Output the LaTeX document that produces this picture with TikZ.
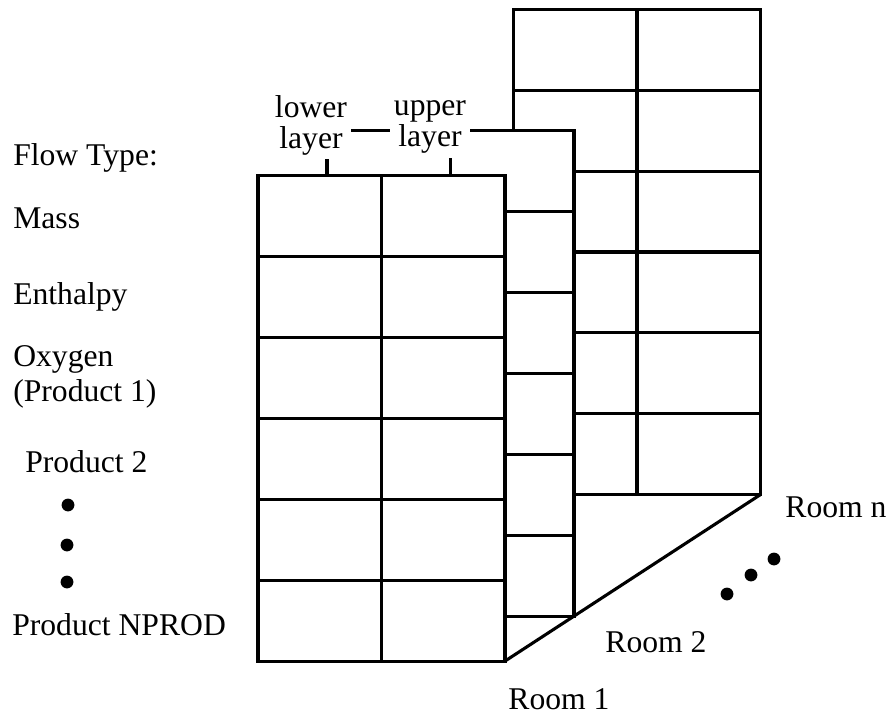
\documentclass[tikz,border=0pt]{standalone}
\usepackage{fontspec}
\setmainfont{Liberation Serif}
\usetikzlibrary{calc}
\tikzset{
    roomSheet/.style={
        draw,
        fill=white,
        line width=2.2pt,
        inner sep=0pt,
        outer sep=0pt,
        minimum width=6.175cm,
        minimum height=12.125cm
    },
    gridLine/.style={line width=2.2pt},
    flowLabel/.style={anchor=west, align=left, inner sep=0pt, font=\fontsize{22.5}{25}\selectfont},
    layerLabel/.style={fill=white, align=center, inner sep=3pt, font=\fontsize{22.5}{22}\selectfont},
    roomLabel/.style={inner sep=0pt, font=\fontsize{22.5}{25}\selectfont},
    dotMark/.style={circle, fill=black, inner sep=0pt, minimum size=0.32cm},
}

\begin{document}
\begin{tikzpicture}[x=0.025cm, y=-0.025cm]
    \useasboundingbox (0,0) rectangle (895,716);

    % Sheets, back to front: Room n, Room 2, Room 1
    \foreach \s/\xc/\yc in {roomn/637/252, room2/450.5/373.5, room1/381.5/418.5} {
        \node[roomSheet] (\s) at (\xc,\yc) {};
        \draw[gridLine] (\s.north) -- (\s.south);
        \foreach \r in {1,...,5}
            \draw[gridLine] ($(\s.north west)!\r/6!(\s.south west)$) -- ($(\s.north east)!\r/6!(\s.south east)$);
    }

    % Bottom edge through the rooms
    \draw[gridLine] (room1.south east) -- (roomn.south east);

    % Layer labels
    \node[layerLabel] (lower) at (311,125) {lower\\layer};
    \node[layerLabel] (upper) at (430,127) {upper\\layer};

    % Flow types
    \node[flowLabel] (flowtype) at (13,158) {Flow Type:};
    \node[flowLabel] (mass) at (13,218) {Mass};
    \node[flowLabel] (enthalpy) at (13,297) {Enthalpy};
    \node[flowLabel] (oxygen) at (13,377) {Oxygen\\(Product 1)};
    \node[flowLabel] (prod2) at (25,462) {Product 2};
    \node[dotMark] (fdot1) at (68,505) {};
    \node[dotMark] (fdot2) at (67,545) {};
    \node[dotMark] (fdot3) at (67,582) {};
    \node[flowLabel] (nprod) at (12,625) {Product NPROD};

    % Room labels
    \node[roomLabel] (lbl1) at (559,699) {Room 1};
    \node[roomLabel] (lbl2) at (656,642) {Room 2};
    \node[roomLabel] (lbln) at (836,507) {Room n};
    \node[dotMark] (rdot1) at (727,594) {};
    \node[dotMark] (rdot2) at (751,575) {};
    \node[dotMark] (rdot3) at (774,559) {};

\end{tikzpicture}
\end{document}
